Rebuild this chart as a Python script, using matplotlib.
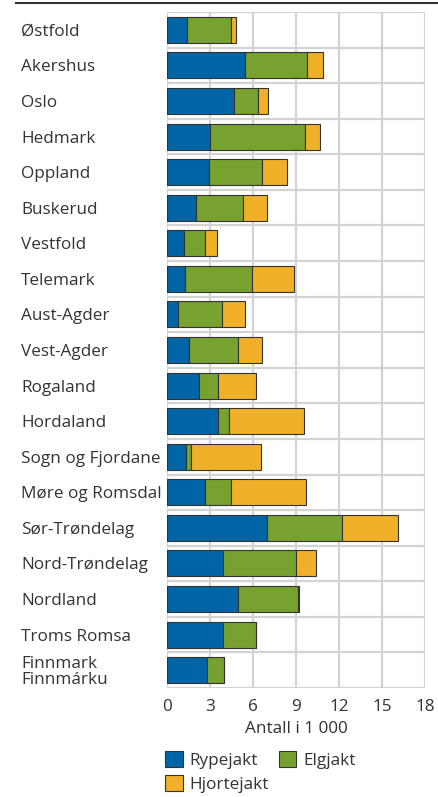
import matplotlib.pyplot as plt
import matplotlib.patches as mpatches
import numpy as np

plt.rcParams['font.family'] = ['Open Sans', 'DejaVu Sans']

# Data (antall i 1 000)
fylker = ["Østfold", "Akershus", "Oslo", "Hedmark", "Oppland", "Buskerud",
          "Vestfold", "Telemark", "Aust-Agder", "Vest-Agder", "Rogaland",
          "Hordaland", "Sogn og Fjordane", "Møre og Romsdal", "Sør-Trøndelag",
          "Nord-Trøndelag", "Nordland", "Troms Romsa", "Finnmark\nFinnmárku"]
rypejakt = [1.37, 5.47, 4.70, 2.98, 2.93, 2.00, 1.21, 1.28, 0.79, 1.51, 2.21,
            3.56, 1.33, 2.67, 6.96, 3.88, 4.93, 3.88, 2.77]
elgjakt = [3.12, 4.28, 1.63, 6.67, 3.67, 3.33, 1.44, 4.67, 3.02, 3.42, 1.33,
           0.79, 0.37, 1.82, 5.23, 5.10, 4.19, 2.31, 1.23]
hjortejakt = [0.35, 1.16, 0.74, 1.05, 1.77, 1.62, 0.86, 2.93, 1.63, 1.70, 2.69,
              5.21, 4.84, 5.23, 3.91, 1.39, 0.09, 0.04, 0.0]
xticks = [0, 3, 6, 9, 12, 15, 18]

farger = ["#0065a6", "#78a22f", "#f0b02a"]
navn = ["Rypejakt", "Elgjakt", "Hjortejakt"]

fig = plt.figure(figsize=(4.38, 7.97), dpi=100)
ax = fig.add_axes([167 / 438, 1 - 688 / 797, 258 / 438, 676 / 797])

y = np.arange(len(fylker))
venstre = np.zeros(len(fylker))
for verdier, farge, n in zip([rypejakt, elgjakt, hjortejakt], farger, navn):
    ax.barh(y, verdier, left=venstre, height=0.73, color=farge,
            edgecolor="#333333", linewidth=0.8, label=n, zorder=3)
    venstre = venstre + np.array(verdier)

ax.set_xlim(0, 18)
ax.set_ylim(len(fylker) - 0.5, -0.5)

gridfarge = "#d3d3d3"
for xv in xticks:
    ax.axvline(xv, color=gridfarge, lw=1.6, zorder=1)
for k in range(len(fylker) + 1):
    ax.axhline(k - 0.5, color=gridfarge, lw=1.6, zorder=1)
for s in ax.spines.values():
    s.set_visible(False)

ax.set_xticks(xticks)
ax.set_xticklabels([str(v) for v in xticks], fontsize=12.3, color="#333333")
ax.set_yticks(y)
ax.set_yticklabels(fylker, fontsize=12.3, color="#333333", ha="left",
                   linespacing=0.95)
ax.tick_params(axis="y", length=0, pad=105)
ax.tick_params(axis="x", length=0, pad=8)
ax.set_xlabel("Antall i 1 000", fontsize=12.3, color="#333333", labelpad=4)

# linje øverst
fig.add_artist(plt.Line2D([16 / 438, 1], [1 - 2.5 / 797, 1 - 2.5 / 797],
                          color="#333333", lw=1.5))

handles = [mpatches.Patch(facecolor=f, edgecolor="#333333", lw=0.8, label=n)
           for f, n in zip(farger, navn)]
# kolonnevis fylling: Rypejakt, Hjortejakt | Elgjakt
handles = [handles[0], handles[2], handles[1]]
fig.legend(handles=handles, loc="upper left", ncol=2, frameon=False,
           bbox_to_anchor=(165 / 438, 1 - 751 / 797), borderaxespad=0,
           borderpad=0, fontsize=12.3, handlelength=1.05, handleheight=1.1,
           handletextpad=0.4, columnspacing=0.55, labelspacing=0.35,
           labelcolor="#333333")

fig.savefig("out.png", dpi=100)
